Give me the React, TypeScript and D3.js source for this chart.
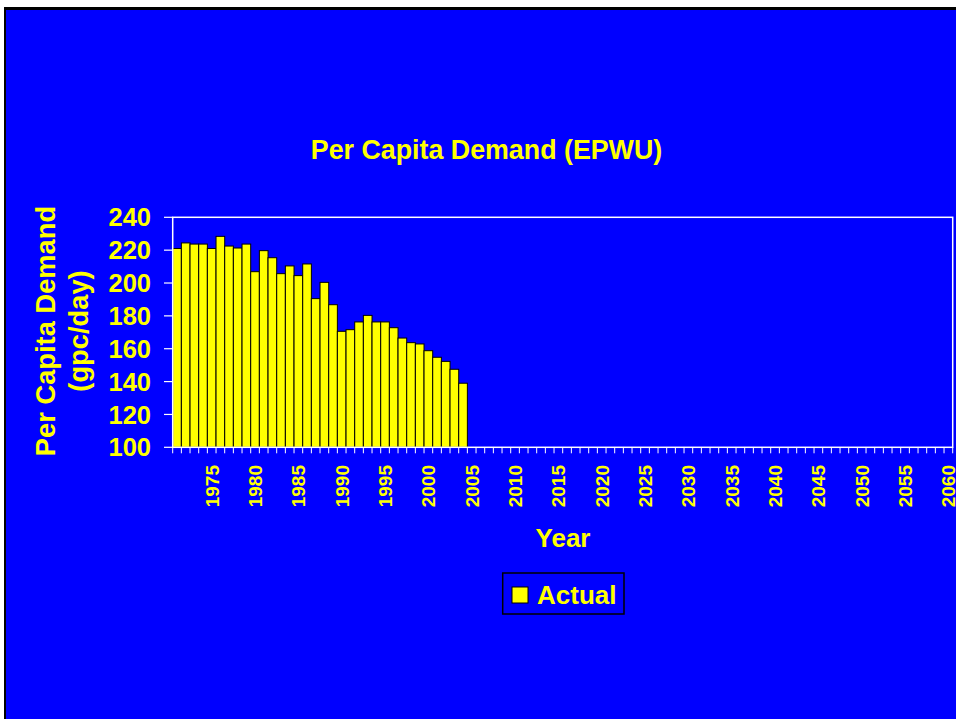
import React from "react";
import * as d3 from "d3";

const years: number[] = d3.range(1971, 2061);
const actualYears: number[] = d3.range(1971, 2005);
const actualValues: number[] = [
  221, 224.4, 223.7, 223.7, 221, 228.4, 222.5, 221.3, 223.7, 206.9,
  219.7, 215.4, 205.7, 210.4, 204.5, 211.6, 190.5, 200.4, 186.8, 170.6,
  171.6, 176.3, 180.3, 176.3, 176.3, 172.8, 166.5, 163.7, 162.9, 158.8,
  154.8, 152.3, 147.5, 139,
];
const yTicks: number[] = [100, 120, 140, 160, 180, 200, 220, 240];
const xLabelYears: number[] = d3.range(1975, 2061, 5);

const title = "Per Capita Demand (EPWU)";
const yTitle1 = "Per Capita Demand";
const yTitle2 = "(gpc/day)";
const xTitle = "Year";
const legendLabel = "Actual";

const W = 956;
const H = 719;
const BLUE = "#0000FF";
const YELLOW = "#FFFF00";
const FONT = "Arial, 'Liberation Sans', sans-serif";

export default function App() {
  const left = 172.7, right = 952.7, top = 217.3, bottom = 447.3;
  const x = d3.scaleBand<number>().domain(years).range([left, right]).padding(0);
  const y = d3.scaleLinear().domain([100, 240]).range([bottom, top]);
  const bw = x.bandwidth();

  return (
    <svg width={W} height={H} style={{ position: "absolute", left: 0, top: 0 }}>
      <rect x={0} y={0} width={W} height={H} fill="#ffffff" />
      <rect x={4} y={7} width={W} height={H} fill="#000000" />
      <rect x={6} y={10} width={W} height={H} fill={BLUE} />

      <text x={486.5} y={159.3} textAnchor="middle" fill={YELLOW} fontFamily={FONT} fontWeight="bold" fontSize={26.8}>
        {title}
      </text>

      {/* bars */}
      {actualYears.map((yr, i) => (
        <rect
          key={yr}
          x={x(yr)!}
          y={y(actualValues[i])}
          width={bw}
          height={y(100) - y(actualValues[i])}
          fill={YELLOW}
          stroke="#000000"
          strokeWidth={1}
        />
      ))}

      {/* plot border */}
      <rect x={left} y={top} width={right - left} height={bottom - top} fill="none" stroke="#ffffff" strokeWidth={1.5} />

      {/* y ticks */}
      {yTicks.map((t) => (
        <g key={t}>
          <line x1={164} x2={left} y1={y(t)} y2={y(t)} stroke="#ffffff" strokeWidth={1.2} />
          <text x={151} y={y(t)} dy="0.36em" textAnchor="end" fill={YELLOW} fontFamily={FONT} fontWeight="bold" fontSize={25.5}>
            {t}
          </text>
        </g>
      ))}

      {/* x ticks */}
      {years.map((yr) => (
        <line key={yr} x1={x(yr)!} x2={x(yr)!} y1={bottom} y2={bottom + 6} stroke="#ffffff" strokeWidth={1} />
      ))}
      <line x1={right} x2={right} y1={bottom} y2={bottom + 6} stroke="#ffffff" strokeWidth={1} />
      {xLabelYears.map((yr) => {
        const cx = x(yr)! + bw / 2;
        return (
          <text
            key={yr}
            transform={`translate(${cx},465) rotate(-90)`}
            dy="0.36em"
            textAnchor="end"
            fill={YELLOW}
            fontFamily={FONT}
            fontWeight="bold"
            fontSize={19}
          >
            {yr}
          </text>
        );
      })}

      {/* axis titles */}
      <text transform="translate(55,331) rotate(-90)" textAnchor="middle" fill={YELLOW} fontFamily={FONT} fontWeight="bold" fontSize={27.3}>
        {yTitle1}
      </text>
      <text transform="translate(88,331) rotate(-90)" textAnchor="middle" fill={YELLOW} fontFamily={FONT} fontWeight="bold" fontSize={27.3}>
        {yTitle2}
      </text>
      <text x={563} y={546.7} textAnchor="middle" fill={YELLOW} fontFamily={FONT} fontWeight="bold" fontSize={26}>
        {xTitle}
      </text>

      {/* legend */}
      <rect x={502.7} y={573} width={121.3} height={41} fill={BLUE} stroke="#000000" strokeWidth={1.5} />
      <rect x={512} y={587} width={16} height={16} fill={YELLOW} stroke="#000000" strokeWidth={1} />
      <text x={537} y={604.3} fill={YELLOW} fontFamily={FONT} fontWeight="bold" fontSize={26}>
        {legendLabel}
      </text>
    </svg>
  );
}
